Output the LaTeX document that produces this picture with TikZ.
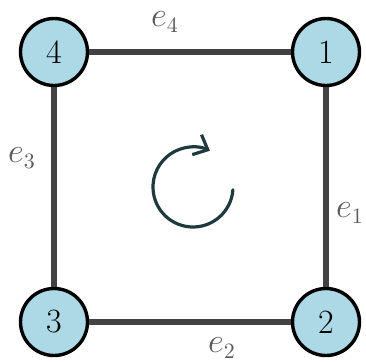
\documentclass[tikz,border=0pt]{standalone}
\usetikzlibrary{arrows.meta}
\definecolor{vertexfill}{HTML}{ADD8E6}
\definecolor{edgegray}{HTML}{424242}
\definecolor{labelgray}{HTML}{5A5A5A}
\definecolor{spincolor}{HTML}{1E3A3E}
\tikzset{
  vertex/.style={circle, draw=black, fill=vertexfill, line width=1.7pt,
    minimum size=33.5pt, inner sep=0pt, font=\fontsize{17}{20}\selectfont},
  edgeline/.style={draw=edgegray, line width=2.6pt},
  elabel/.style={text=labelgray, font=\fontsize{16}{19}\selectfont}
}
\begin{document}
\begin{tikzpicture}[x=0.5pt, y=-0.5pt, line join=round]
	\useasboundingbox (0,0) rectangle (366,361);
	\node[vertex] (v4) at (54,52) {4};
	\node[vertex] (v1) at (326,52) {1};
	\node[vertex] (v3) at (54,322) {3};
	\node[vertex] (v2) at (326,322) {2};
	\draw[edgeline] (v1) -- (v2);
	\draw[edgeline] (v2) -- (v3);
	\draw[edgeline] (v3) -- (v4);
	\draw[edgeline] (v4) -- (v1);
	\node[elabel] (l4) at (165,22) {$e_4$};
	\node[elabel] (l3) at (22,158) {$e_3$};
	\node[elabel] (l1) at (350,213) {$e_1$};
	\node[elabel] (l2) at (222,348) {$e_2$};
	% rotation sense
	\coordinate (spin) at (193,187);
	\draw[spincolor, line width=1.6pt, line cap=round, -{Straight Barb[length=6pt,width=11pt]}]
	  ([shift={(4:40)}]spin) arc[start angle=4, end angle=295, radius=40];
\end{tikzpicture}
\end{document}
